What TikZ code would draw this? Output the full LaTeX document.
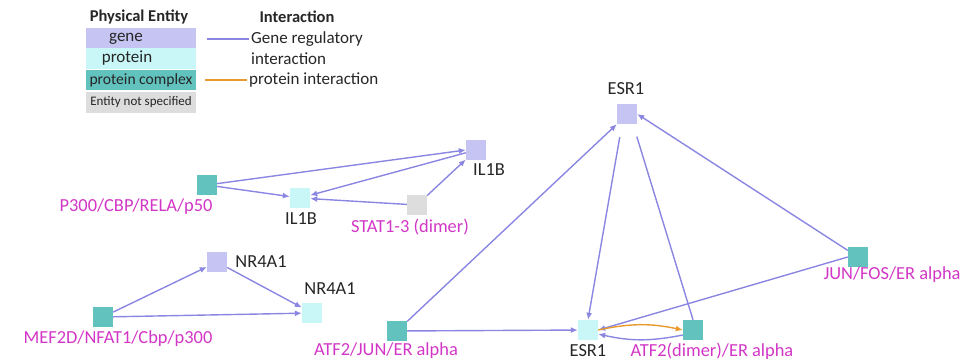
\documentclass[tikz,border=0pt]{standalone}
\usepackage{fontspec}
\setmainfont{Carlito}
\usetikzlibrary{arrows.meta}
\definecolor{genec}{HTML}{C6C4F2}
\definecolor{protc}{HTML}{C9F6F6}
\definecolor{cplxc}{HTML}{62C2BE}
\definecolor{unspc}{HTML}{DDDDDD}
\definecolor{regc}{HTML}{8A86E2}
\definecolor{ppic}{HTML}{E89A2C}
\definecolor{labc}{HTML}{D236C6}
\definecolor{txtc}{HTML}{262626}
\begin{document}
\begin{tikzpicture}[x=1pt,y=-1pt,
  ent/.style={rectangle, minimum size=20pt, inner sep=0pt},
  gene/.style={ent, fill=genec},
  prot/.style={ent, fill=protc},
  cplx/.style={ent, fill=cplxc},
  unsp/.style={ent, fill=unspc},
  reg/.style={draw=regc, line width=1.4pt, -{Latex[length=7pt,width=6pt]}},
  ppi/.style={draw=ppic, line width=1.4pt, -{Latex[length=7pt,width=6pt]}},
  lab/.style={font=\fontsize{18.4}{18}\selectfont, text=labc, inner sep=0pt},
  symlab/.style={font=\fontsize{18.4}{18}\selectfont, text=txtc, inner sep=0pt},
  legbox/.style={rectangle, minimum width=110pt, minimum height=20pt, inner sep=0pt},
  boxtxt/.style={font=\fontsize{17}{17}\selectfont, text=txtc, inner sep=0pt},
  legtxt/.style={font=\fontsize{17}{17}\selectfont, text=txtc, inner sep=0pt, anchor=west},
  leghead/.style={font=\bfseries\fontsize{16.5}{16}\selectfont, text=txtc, inner sep=0pt},
]
\useasboundingbox (0,0) rectangle (976,361);

% legend: physical entities
\node[leghead] (hEnt) at (139,17) {Physical Entity};
\node[legbox, fill=genec] (lgGene) at (141,38.5) {};
\node[legbox, fill=protc] (lgProt) at (141,58.5) {};
\node[legbox, fill=cplxc] (lgCplx) at (141,80) {};
\node[legbox, fill=unspc, minimum height=21pt] (lgUnsp) at (141,102.5) {};
\node[boxtxt] (lgGeneT) at (126,38.5) {gene};
\node[boxtxt] (lgProtT) at (127,58.5) {protein};
\node[boxtxt, font=\fontsize{15.6}{16}\selectfont] (lgCplxT) at (lgCplx) {protein complex};
\node[boxtxt, font=\fontsize{13}{13}\selectfont] (lgUnspT) at (lgUnsp) {Entity not specified};

% legend: interactions
\node[leghead] (hInt) at (297,17) {Interaction};
\coordinate (lgRegA) at (207,39);
\coordinate (lgRegB) at (249,39);
\draw[regc, line width=1.4pt] (lgRegA) -- (lgRegB);
\node[legtxt] (lgRegT) at (251,39) {Gene regulatory};
\node[legtxt] (lgRegT2) at (251,59) {interaction};
\coordinate (lgPpiA) at (205,80);
\coordinate (lgPpiB) at (247,80);
\draw[ppic, line width=1.4pt] (lgPpiA) -- (lgPpiB);
\node[legtxt] (lgPpiT) at (249,80) {protein interaction};

% IL1B module
\node[cplx] (p300) at (207,185) {};
\node[prot] (il1bP) at (300,198) {};
\node[gene] (il1bG) at (476,150) {};
\node[unsp] (stat) at (417,205) {};
\node[lab] (p300L) at (136,207) {P300/CBP/RELA/p50};
\node[symlab] (il1bPL) at (301,219) {IL1B};
\node[symlab] (il1bGL) at (489,170) {IL1B};
\node[lab] (statL) at (410,227) {STAT1-3 (dimer)};

\draw[reg] (p300) -- (il1bG.west);
\draw[reg] (p300) -- (il1bP);
\draw[reg] (il1bG) -- (il1bP);
\draw[reg] (stat) -- (il1bP);
\draw[reg] (stat) -- (il1bG);

% NR4A1 module
\node[cplx] (mef) at (103,317) {};
\node[gene] (nrG) at (217,262) {};
\node[prot] (nrP) at (312,313) {};
\node[lab] (mefL) at (118,339) {MEF2D/NFAT1/Cbp/p300};
\node[symlab] (nrGL) at (261,262) {NR4A1};
\node[symlab] (nrPL) at (330,289) {NR4A1};

\draw[reg] (mef) -- (nrG);
\draw[reg] (mef) -- (nrP);
\draw[reg] (nrG) -- (nrP);

% ESR1 module
\node[cplx] (atfjun) at (397,331) {};
\node[prot] (esrP) at (588,330) {};
\node[gene] (esrG) at (627,114) {};
\node[cplx] (atfdim) at (693,330) {};
\node[cplx] (junfos) at (858,257) {};
\node[lab] (atfjunL) at (386,351) {ATF2/JUN/ER alpha};
\node[symlab] (esrPL) at (588,351) {ESR1};
\node[symlab] (esrGL) at (626,89) {ESR1};
\node[lab] (atfdimL) at (712,351) {ATF2(dimer)/ER alpha};
\node[lab] (junfosL) at (892,275) {JUN/FOS/ER alpha};

\draw[reg] (atfjun) -- (esrG.south west);
\draw[reg] (atfjun) -- (esrP);
\draw[reg, shorten <=13pt] (esrG.south) ++(-5,0) coordinate (esrGs1) -- (esrP.north);
\draw[regc, line width=1.4pt, shorten <=13pt] (esrG.south) ++(6,0) coordinate (esrGs2) -- (atfdim.north);
\draw[reg] (junfos) -- (esrG.east);
\draw[reg] (junfos.west) -- (esrP.east);
\draw[ppi] (esrP.east) to[bend left=12] (atfdim.west);
\draw[reg] ([yshift=-5pt]atfdim.west) to[bend left=12] ([yshift=-4pt]esrP.east);
\end{tikzpicture}
\end{document}
